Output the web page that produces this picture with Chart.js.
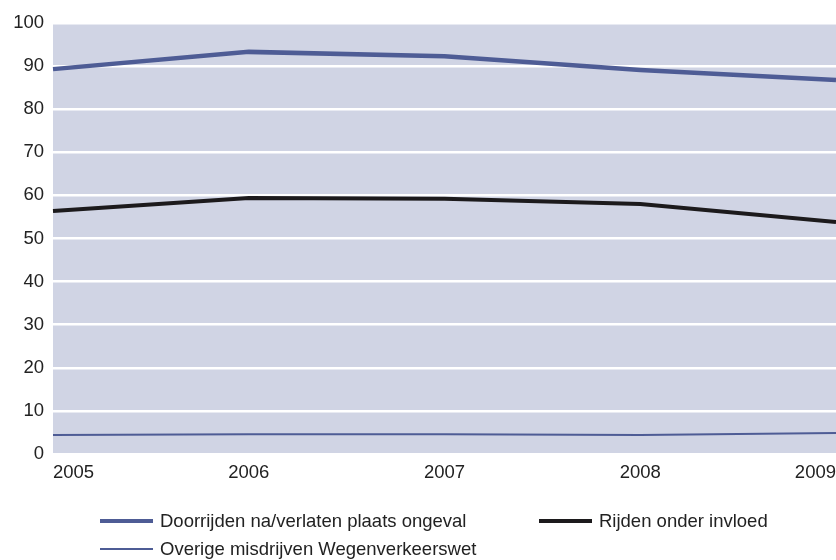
<!DOCTYPE html>
<html>
<head>
<meta charset="utf-8">
<script src="https://cdn.jsdelivr.net/npm/chart.js@4"></script>
<style>
  html, body { margin: 0; padding: 0; background: #fff; }
  #wrap { position: relative; width: 836px; height: 560px; overflow: hidden; }
  canvas { position: absolute; left: 0; top: 0; }
  .leg { position: absolute; font-family: "Liberation Sans", Arial, sans-serif; font-size: 18.5px; color: #222; white-space: nowrap; display: flex; align-items: center; height: 22px; }
  .leg span.ln { display: inline-block; width: 53px; margin-right: 7px; }
</style>
</head>
<body>
<div id="wrap">
  <canvas id="c" width="836" height="560"></canvas>
  <div id="legend"></div>
</div>
<script>
const years = ['2005', '2006', '2007', '2008', '2009'];
const yTicks = [0, 10, 20, 30, 40, 50, 60, 70, 80, 90, 100];
const doorrijden = [89.3, 93.3, 92.3, 89.1, 86.8];
const rijdenOnderInvloed = [56.4, 59.4, 59.2, 58.0, 53.8];
const overige = [4.4, 4.6, 4.6, 4.4, 4.9];
const seriesNames = ['Doorrijden na/verlaten plaats ongeval', 'Rijden onder invloed', 'Overige misdrijven Wegenverkeerswet'];

const FONT = '"Liberation Sans", Arial, sans-serif';

const plotBg = {
  id: 'plotBg',
  beforeDraw(chart) {
    const { ctx, chartArea: a } = chart;
    ctx.save();
    ctx.fillStyle = '#d0d4e4';
    ctx.fillRect(a.left, a.top, a.right - a.left, a.bottom - a.top);
    ctx.restore();
  }
};

const chart = new Chart(document.getElementById('c'), {
  type: 'line',
  data: {
    labels: years,
    datasets: [
      { label: seriesNames[0], data: doorrijden, borderColor: '#4e5c95', borderWidth: 4.5, pointRadius: 0, tension: 0, order: 2 },
      { label: seriesNames[1], data: rijdenOnderInvloed, borderColor: '#1c1a1c', borderWidth: 4, pointRadius: 0, tension: 0, order: 1 },
      { label: seriesNames[2], data: overige, borderColor: '#4e5c95', borderWidth: 2, pointRadius: 0, tension: 0, order: 3 }
    ]
  },
  options: {
    responsive: false,
    animation: false,
    layout: { padding: { top: 23, right: 0, bottom: 70, left: 0 } },
    plugins: { legend: { display: false }, tooltip: { enabled: false } },
    scales: {
      x: {
        offset: false,
        grid: { display: false, drawTicks: false },
        border: { display: false },
        ticks: { color: '#222', font: { family: FONT, size: 18.5 }, padding: 8, align: 'inner', maxRotation: 0 },
        afterFit(s) { s.height = 36; s.paddingLeft = 0; s.paddingRight = 0; }
      },
      y: {
        min: 0, max: 100,
        afterBuildTicks(s) { s.ticks = yTicks.map(v => ({ value: v })); },
        grid: { color: '#ffffff', lineWidth: 2.5, drawTicks: false },
        border: { display: false },
        ticks: { color: '#222', font: { family: FONT, size: 18.5 }, padding: 9 },
        afterFit(s) { s.width = 53; s.paddingTop = 0; s.paddingBottom = 0; }
      }
    }
  },
  plugins: [plotBg]
});

// HTML legend built from the chart's datasets
const legendPos = [
  { left: 100, top: 510 },
  { left: 539, top: 510 },
  { left: 100, top: 538 }
];
const legendEl = document.getElementById('legend');
chart.data.datasets.forEach((ds, i) => {
  const d = document.createElement('div');
  d.className = 'leg';
  d.style.left = legendPos[i].left + 'px';
  d.style.top = legendPos[i].top + 'px';
  const ln = document.createElement('span');
  ln.className = 'ln';
  ln.style.borderTop = (ds.borderWidth >= 4 ? 4 : 2) + 'px solid ' + ds.borderColor;
  const t = document.createElement('span');
  t.textContent = ds.label;
  d.appendChild(ln); d.appendChild(t);
  legendEl.appendChild(d);
});
</script>
</body>
</html>
